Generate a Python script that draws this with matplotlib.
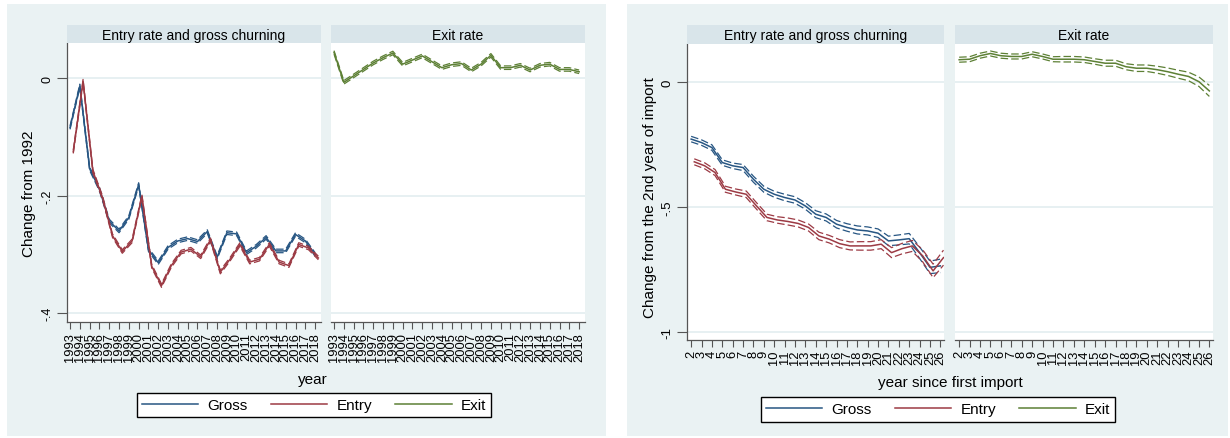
import matplotlib
matplotlib.use("Agg")
import matplotlib.pyplot as plt
from matplotlib.patches import Rectangle
from matplotlib.lines import Line2D

plt.rcParams['font.family'] = ['Liberation Sans', 'DejaVu Sans']

W, H = 1230, 439

# ---- calendar-year estimates (change from 1992) ----
years = list(range(1993, 2019))
gross_year = [-0.084, -0.013, -0.154, -0.189, -0.243, -0.260, -0.237, -0.181,
              -0.292, -0.314, -0.288, -0.277, -0.273, -0.278, -0.261, -0.305,
              -0.263, -0.265, -0.297, -0.286, -0.271, -0.294, -0.294, -0.266,
              -0.277, -0.300]
entry_year = [-0.125, -0.005, -0.158, -0.204, -0.268, -0.295, -0.277, -0.201,
              -0.320, -0.353, -0.319, -0.296, -0.291, -0.304, -0.275, -0.330,
              -0.308, -0.283, -0.313, -0.308, -0.283, -0.313, -0.319, -0.283,
              -0.289, -0.306]
exit_year = [0.044, -0.007, 0.004, 0.015, 0.026, 0.035, 0.043, 0.024,
             0.031, 0.038, 0.028, 0.018, 0.023, 0.025, 0.014, 0.024,
             0.039, 0.018, 0.018, 0.022, 0.014, 0.022, 0.024, 0.015,
             0.015, 0.011]
gross_year_ci = 0.003
entry_year_ci = 0.003
exit_year_ci = 0.003

# ---- estimates by year since first import (change from 2nd year) ----
since = list(range(2, 27))
gross_since = [-0.227, -0.241, -0.261, -0.321, -0.334, -0.341, -0.388, -0.428,
               -0.448, -0.461, -0.471, -0.495, -0.528, -0.541, -0.568, -0.581,
               -0.591, -0.595, -0.604, -0.635, -0.631, -0.626, -0.682, -0.741,
               -0.735]
entry_since = [-0.318, -0.334, -0.361, -0.428, -0.439, -0.448, -0.495, -0.541,
               -0.551, -0.557, -0.565, -0.581, -0.615, -0.628, -0.646, -0.655,
               -0.655, -0.655, -0.648, -0.682, -0.666, -0.655, -0.695, -0.755,
               -0.702]
exit_since = [0.091, 0.093, 0.107, 0.116, 0.107, 0.104, 0.104, 0.113,
              0.104, 0.093, 0.093, 0.093, 0.091, 0.084, 0.077, 0.077,
              0.063, 0.057, 0.057, 0.051, 0.043, 0.033, 0.024, 0.003,
              -0.034]
gross_since_ci = [0.011, 0.011, 0.011, 0.011, 0.011, 0.012, 0.012, 0.012, 0.012,
                  0.013, 0.013, 0.013, 0.014, 0.014, 0.015, 0.015, 0.016, 0.016,
                  0.017, 0.019, 0.020, 0.021, 0.023, 0.025, 0.027]
entry_since_ci = [0.012, 0.012, 0.012, 0.012, 0.012, 0.013, 0.013, 0.013, 0.013,
                  0.014, 0.014, 0.014, 0.015, 0.015, 0.016, 0.016, 0.017, 0.017,
                  0.018, 0.020, 0.021, 0.022, 0.024, 0.027, 0.030]
exit_since_ci = [0.010, 0.010, 0.010, 0.010, 0.010, 0.010, 0.010, 0.010, 0.010,
                 0.010, 0.011, 0.011, 0.011, 0.011, 0.012, 0.012, 0.012, 0.013,
                 0.013, 0.014, 0.015, 0.016, 0.017, 0.019, 0.022]

series_labels = ['Gross', 'Entry', 'Exit']
strip_titles = ['Entry rate and gross churning', 'Exit rate']

NAVY = '#275683'
MAROON = '#9c3a44'
GREEN = '#5d8035'
BG = '#eaf2f3'
STRIP = '#d9e5ea'
GRID = '#e3edf0'
AXC = '#555555'

fig = plt.figure(figsize=(W / 100, H / 100), dpi=100)
fig.patch.set_facecolor('white')


def frac(x0, y0, x1, y1):
    return [x0 / W, 1 - y1 / H, (x1 - x0) / W, (y1 - y0) / H]


for x0, x1 in [(7, 606), (627, 1228)]:
    fig.patches.append(Rectangle((x0 / W, 1 - 437 / H), (x1 - x0) / W, (437 - 5) / H,
                                 transform=fig.transFigure, facecolor=BG,
                                 edgecolor='none', zorder=-1))


def panel(box, strip_top, title, xlim, ylim, yticks, ylabels, xticks,
          show_y, ytick_size, xtick_size):
    ax = fig.add_axes(frac(*box))
    ax.set_facecolor('white')
    ax.set_xlim(*xlim)
    ax.set_ylim(*ylim)
    for s in ['top', 'right']:
        ax.spines[s].set_visible(False)
    ax.spines['left'].set_visible(show_y)
    ax.spines['left'].set_color(AXC)
    ax.spines['bottom'].set_color(AXC)
    ax.spines['left'].set_linewidth(0.9)
    ax.spines['bottom'].set_linewidth(0.9)
    ax.set_yticks(yticks)
    ax.grid(axis='y', color=GRID, lw=1.2)
    ax.set_axisbelow(True)
    if show_y:
        ax.set_yticklabels(ylabels, rotation=90, va='center', fontsize=ytick_size)
        ax.tick_params(axis='y', length=7, width=0.8, color=AXC, pad=3)
    else:
        ax.tick_params(axis='y', length=0, labelleft=False)
    ax.set_xticks(xticks)
    ax.set_xticklabels([str(t) for t in xticks], rotation=90, fontsize=xtick_size)
    ax.tick_params(axis='x', length=5, width=0.8, color=AXC, pad=2)

    sax = fig.add_axes(frac(box[0], strip_top, box[2], box[1]))
    sax.set_facecolor(STRIP)
    sax.set_xticks([])
    sax.set_yticks([])
    for s in sax.spines.values():
        s.set_visible(False)
    sax.text(0.5, 0.47, title, ha='center', va='center', fontsize=10,
             transform=sax.transAxes)
    return ax


def draw(ax, x, y, ci, color, shift=0.0):
    if not isinstance(ci, list):
        ci = [ci] * len(y)
    xs = [v + shift for v in x]
    lo = [a - c for a, c in zip(y, ci)]
    hi = [a + c for a, c in zip(y, ci)]
    dash = (0, (6, 2.5))
    ax.plot(xs, lo, color=color, lw=0.9, ls=dash)
    ax.plot(xs, hi, color=color, lw=0.9, ls=dash)
    ax.plot(xs, y, color=color, lw=1.1)


# ---- left graph: by calendar year ----
ylim_l = (-0.415, 0.06)
xlim_l = (1992.69, 2018.6)
yt_l = [0, -0.2, -0.4]
yl_l = ['0', '-.2', '-.4']
a1 = panel((67, 44, 321, 323), 26, strip_titles[0], xlim_l, ylim_l, yt_l, yl_l,
           years, True, 9, 9.3)
a2 = panel((331, 44, 585, 323), 26, strip_titles[1], xlim_l, ylim_l, yt_l, yl_l,
           years, False, 9, 9.3)
draw(a1, years, gross_year, gross_year_ci, NAVY)
draw(a1, years, entry_year, entry_year_ci, MAROON, 0.33)
draw(a2, years, exit_year, exit_year_ci, GREEN)

fig.text(29.5 / W, 1 - 194 / H, 'Change from 1992', rotation=90,
         ha='center', va='center', fontsize=11)
fig.text(313 / W, 1 - 380 / H, 'year', ha='center', va='center', fontsize=11)

# ---- right graph: by year since first import ----
ylim_r = (-1.032, 0.154)
xlim_r = (1.6, 26.35)
yt_r = [0, -0.5, -1]
yl_r = ['0', '-.5', '-1']
b1 = panel((687, 45, 944, 341), 26, strip_titles[0], xlim_r, ylim_r, yt_r, yl_r,
           since, True, 9.5, 9.3)
b2 = panel((955, 45, 1213, 341), 26, strip_titles[1], xlim_r, ylim_r, yt_r, yl_r,
           since, False, 9.5, 9.3)
draw(b1, since, gross_since, gross_since_ci, NAVY)
draw(b1, since, entry_since, entry_since_ci, MAROON, 0.3)
draw(b2, since, exit_since, exit_since_ci, GREEN)

fig.text(650 / W, 1 - 198 / H, 'Change from the 2nd year of import', rotation=90,
         ha='center', va='center', fontsize=11)
fig.text(950 / W, 1 - 383 / H, 'year since first import', ha='center',
         va='center', fontsize=11)

# ---- legends ----
handles = [Line2D([], [], color=c, lw=1.1) for c in (NAVY, MAROON, GREEN)]
for cx, cy in [(314, 406), (938, 410.5)]:
    leg = fig.legend(handles, series_labels, loc='center',
                     bbox_to_anchor=(cx / W, 1 - cy / H), ncol=3, frameon=True,
                     fancybox=False, edgecolor='black', facecolor='white',
                     framealpha=1, fontsize=11, handlelength=3.7,
                     handletextpad=0.6, columnspacing=1.5, borderpad=0.35)
    leg.get_frame().set_linewidth(1.0)

fig.savefig('out.png', dpi=100, facecolor='white')
